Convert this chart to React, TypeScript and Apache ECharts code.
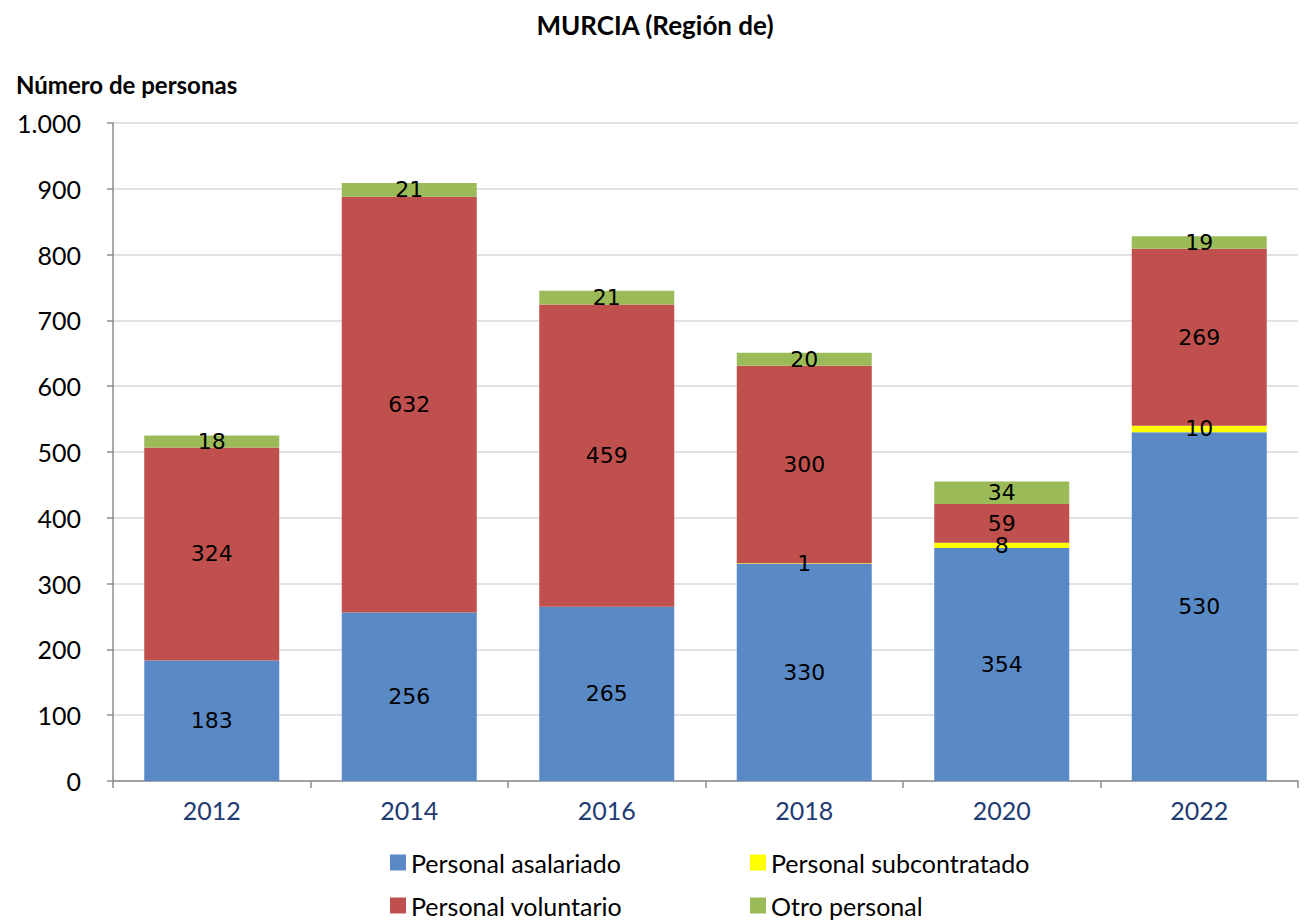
import React, { useEffect, useRef } from "react";
import * as echarts from "echarts";

const years = ["2012", "2014", "2016", "2018", "2020", "2022"];
const asalariado = [183, 256, 265, 330, 354, 530];
const subcontratado = [0, 0, 0, 1, 8, 10];
const voluntario = [324, 632, 459, 300, 59, 269];
const otro = [18, 21, 21, 20, 34, 19];
const seriesNames = ["Personal asalariado", "Personal subcontratado", "Personal voluntario", "Otro personal"];
const colors = ["#5A8AC6", "#FFFF00", "#C0504D", "#9BBB59"];

export default function App() {
  const ref = useRef<HTMLDivElement>(null);
  useEffect(() => {
    const chart = echarts.init(ref.current!, null, { renderer: "svg" });
    const dataSets = [asalariado, subcontratado, voluntario, otro];
    const labelFont = {
      show: true,
      position: "inside",
      color: "#000",
      fontFamily: "DejaVu Sans",
      fontSize: 22,
      formatter: (p: any) => (p.value ? String(p.value) : ""),
    };
    const legendPos = [
      { left: 385, top: 845 },
      { left: 745, top: 845 },
      { left: 385, top: 888 },
      { left: 745, top: 888 },
    ];
    chart.setOption({
      animation: false,
      color: colors,
      title: {
        text: "MURCIA (Región de)",
        left: "center",
        top: 7,
        textStyle: { fontFamily: "Lato", fontWeight: "bold", fontSize: 26, color: "#000" },
      },
      legend: seriesNames.map((n, i) => ({
        data: [n],
        ...legendPos[i],
        icon: "rect",
        itemWidth: 16,
        itemHeight: 16,
        itemGap: 8,
        textStyle: { fontFamily: "Lato", fontSize: 25, color: "#000" },
      })),
      grid: { left: 113, right: 12, top: 123, bottom: 140, containLabel: false },
      xAxis: {
        type: "category",
        data: years,
        axisLine: { lineStyle: { color: "#8c8c8c", width: 1.5 } },
        axisTick: { show: true, length: 7, lineStyle: { color: "#8c8c8c", width: 1.5 } },
        axisLabel: { fontFamily: "Lato", fontSize: 25, color: "#1F3B73", margin: 16 },
      },
      yAxis: {
        type: "value",
        min: 0,
        max: 1000,
        interval: 100,
        name: "Número de personas",
        nameLocation: "end",
        nameTextStyle: {
          fontFamily: "Lato",
          fontWeight: "bold",
          fontSize: 24,
          color: "#000",
          align: "left",
          padding: [0, 0, 12, -97],
        },
        axisLine: { show: true, lineStyle: { color: "#8c8c8c", width: 1.5 } },
        axisTick: { show: true, length: 6, lineStyle: { color: "#8c8c8c", width: 1.5 } },
        splitLine: { lineStyle: { color: "#d9d9d9", width: 1.5 } },
        axisLabel: {
          fontFamily: "Lato",
          fontSize: 25,
          color: "#000",
          margin: 32,
          formatter: (v: number) => (v >= 1000 ? "1.000" : String(v)),
        },
      },
      series: seriesNames.map((n, i) => ({
        name: n,
        type: "bar",
        stack: "total",
        barWidth: 135,
        data: dataSets[i],
        label: labelFont,
      })),
    });
    return () => chart.dispose();
  }, []);
  return <div ref={ref} style={{ width: 1310, height: 921, position: "absolute", left: 0, top: 0 }} />;
}
